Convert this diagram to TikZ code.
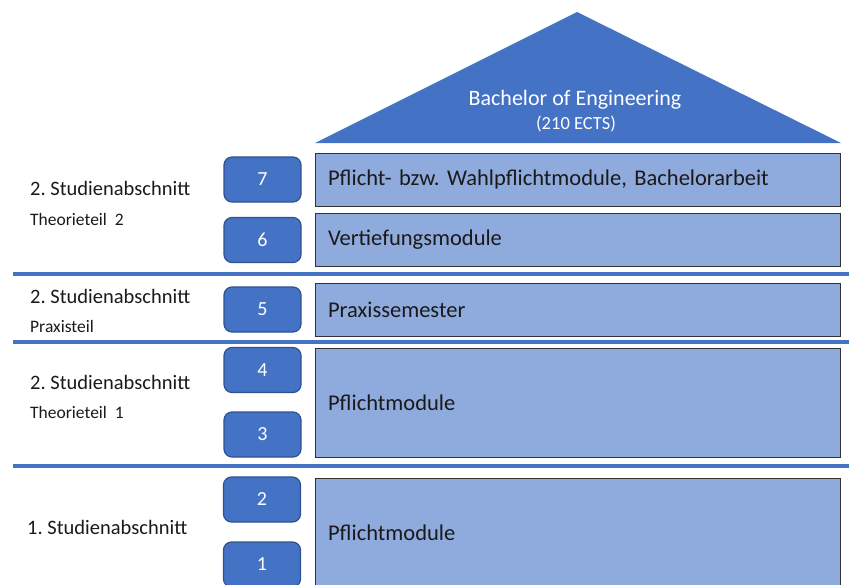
\documentclass[tikz,border=0pt]{standalone}
\usepackage{fontspec}
\setmainfont{Carlito}
\definecolor{dblue}{HTML}{4472C4}
\definecolor{lblue}{HTML}{8FAADC}
\definecolor{bblue}{HTML}{2F528F}
\definecolor{txt}{HTML}{1A1A1A}
\frenchspacing
\begin{document}
\begin{tikzpicture}[x=1pt,y=-1pt,
  numbox/.style={draw=bblue,line width=1.2pt,fill=dblue,rounded corners=8pt,minimum width=77pt,minimum height=45pt,text=white,font=\fontsize{20}{24}\selectfont,inner sep=0pt},
  modbox/.style={draw=black!80,line width=0.8pt,fill=lblue,text width=499pt,inner xsep=13pt,inner ysep=0pt,align=left,text=txt,font=\fontsize{22.5}{26}\selectfont},
  mainlbl/.style={anchor=west,text=txt,font=\fontsize{20.5}{24}\selectfont,inner sep=0pt},
  sublbl/.style={anchor=west,text=txt,font=\fontsize{17.5}{21}\selectfont,inner sep=0pt},
  sepline/.style={draw=dblue,line width=3.5pt}]
\useasboundingbox (0,0) rectangle (849,584);
% roof
\coordinate (apex) at (577,12);
\coordinate (bl) at (315,143);
\coordinate (br) at (841,143);
\fill[dblue] (apex) -- (br) -- (bl) -- cycle;
\node[text=white,font=\fontsize{22}{26}\selectfont,inner sep=0pt] (title) at (575,100) {Bachelor of Engineering};
\node[text=white,font=\fontsize{18.5}{22}\selectfont,inner sep=0pt] (ects) at (576,124) {(210 ECTS)};
% module boxes
\node[modbox,minimum height=53pt] (m7) at (577.5,179.5) {Pflicht- bzw. Wahlpflichtmodule, Bachelorarbeit};
\node[modbox,minimum height=53pt] (m6) at (577.5,240) {Vertiefungsmodule};
\node[modbox,minimum height=53pt] (m5) at (577.5,309.5) {Praxissemester};
\node[modbox,minimum height=109pt] (m34) at (577.5,402.5) {Pflichtmodule};
\node[modbox,minimum height=110pt] (m12) at (577.5,533) {Pflichtmodule};
% semester boxes
\node[numbox] (s7) at (262.5,179.5) {7};
\node[numbox] (s6) at (262.5,240) {6};
\node[numbox] (s5) at (262.5,309.5) {5};
\node[numbox] (s4) at (262.5,370) {4};
\node[numbox] (s3) at (262.5,434.5) {3};
\node[numbox] (s2) at (262,499.5) {2};
\node[numbox] (s1) at (262,564.5) {1};
% separators
\coordinate (l1a) at (13,274); \coordinate (l1b) at (849,274);
\coordinate (l2a) at (13,342); \coordinate (l2b) at (849,342);
\coordinate (l3a) at (13,466); \coordinate (l3b) at (849,466);
\draw[sepline] (l1a) -- (l1b);
\draw[sepline] (l2a) -- (l2b);
\draw[sepline] (l3a) -- (l3b);
% left labels
\node[mainlbl] (a1) at (30,188) {2. Studienabschnitt};
\node[sublbl] (b1) at (30,219) {Theorieteil\ \ 2};
\node[mainlbl] (a2) at (30,296) {2. Studienabschnitt};
\node[sublbl] (b2) at (30,326) {Praxisteil};
\node[mainlbl] (a3) at (30,382) {2. Studienabschnitt};
\node[sublbl] (b3) at (30,412) {Theorieteil\ \ 1};
\node[mainlbl] (a4) at (27,527) {1. Studienabschnitt};
\end{tikzpicture}
\end{document}
